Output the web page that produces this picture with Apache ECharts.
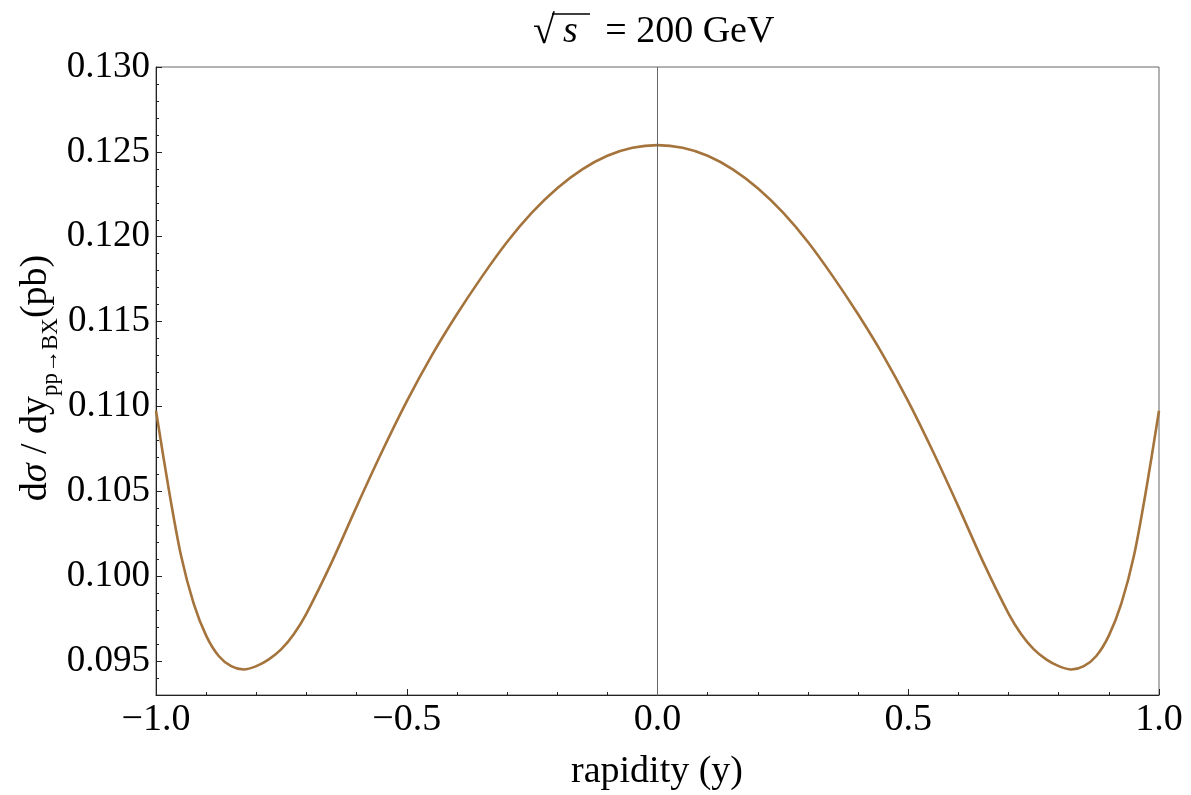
<!DOCTYPE html>
<html>
<head>
<meta charset="utf-8">
<script src="https://cdn.jsdelivr.net/npm/echarts@6/dist/echarts.min.js"></script>
<style>
html,body{margin:0;padding:0;background:#fff;}
#chart{width:1191px;height:795px;}
</style>
</head>
<body>
<div id="chart"></div>
<script>
// rapidity values
const rapidity = [-1.0, -0.975, -0.95, -0.925, -0.9, -0.875, -0.85, -0.825, -0.8, -0.775, -0.75, -0.725, -0.7, -0.65, -0.6, -0.55, -0.5, -0.45, -0.4, -0.35, -0.3, -0.25, -0.2, -0.15, -0.1, -0.05,
  0.0, 0.05, 0.1, 0.15, 0.2, 0.25, 0.3, 0.35, 0.4, 0.45, 0.5, 0.55, 0.6, 0.65, 0.7, 0.725, 0.75, 0.775, 0.8, 0.825, 0.85, 0.875, 0.9, 0.925, 0.95, 0.975, 1.0];
// dsigma/dy (pb)
const dsigma = [0.10975, 0.1052, 0.1012, 0.0984, 0.0965, 0.0953, 0.0947, 0.0945, 0.0947, 0.0951, 0.0957, 0.0966, 0.0978, 0.1008, 0.1041, 0.1073, 0.1103, 0.11301, 0.11543, 0.11765, 0.11969, 0.12143, 0.12286, 0.12397, 0.12477, 0.12524,
  0.1254, 0.12524, 0.12477, 0.12397, 0.12286, 0.12143, 0.11969, 0.11765, 0.11543, 0.11301, 0.1103, 0.1073, 0.1041, 0.1008, 0.0978, 0.0966, 0.0957, 0.0951, 0.0947, 0.0945, 0.0947, 0.0953, 0.0965, 0.0984, 0.1012, 0.1052, 0.10975];
const yMajorTicks = [0.095, 0.100, 0.105, 0.110, 0.115, 0.120, 0.125, 0.130];
const xTickLabels = ['\u22121.0', '\u22120.5', '0.0', '0.5', '1.0'];

const FONT = '"Liberation Serif", "DejaVu Serif", serif';
const chart = echarts.init(document.getElementById('chart'), null, {renderer: 'canvas'});
const data = rapidity.map((x, i) => [x, dsigma[i]]);

chart.setOption({
  backgroundColor: '#ffffff',
  animation: false,
  grid: {left: 156, right: 32, top: 67, bottom: 100, show: true, borderColor: '#666', borderWidth: 1, backgroundColor: 'transparent'},
  xAxis: {
    type: 'value', min: -1, max: 1, interval: 0.5,
    axisLine: {show: true, onZero: false, lineStyle: {color: '#222', width: 1}},
    axisTick: {show: true, inside: true, length: 6, lineStyle: {color: '#222'}},
    minorTick: {show: true, splitNumber: 5, length: 3, lineStyle: {color: '#222'}},
    splitLine: {show: false},
    axisLabel: {
      margin: 6, color: '#000', fontFamily: FONT, fontSize: 38,
      formatter: v => xTickLabels[Math.round((v + 1) * 2)]
    }
  },
  yAxis: [{
    type: 'value', min: 0.093, max: 0.130, position: 'left',
    axisLine: {show: true, onZero: false, lineStyle: {color: '#222', width: 1}},
    axisTick: {show: true, inside: true, length: 6, customValues: yMajorTicks, lineStyle: {color: '#222'}},
    splitLine: {show: false},
    axisLabel: {
      margin: 6, color: '#000', fontFamily: FONT, fontSize: 37,
      customValues: yMajorTicks,
      formatter: v => v.toFixed(3)
    }
  }, {
    type: 'value', min: 0.093, max: 0.130, interval: 0.001, position: 'left',
    axisLine: {show: false, onZero: false},
    axisTick: {show: true, inside: true, length: 3, lineStyle: {color: '#222'}},
    axisLabel: {show: false},
    splitLine: {show: false}
  }],
  series: [{
    type: 'line', data: data, yAxisIndex: 0, smooth: 0.3, showSymbol: false,
    lineStyle: {color: '#a5733c', width: 2.6},
    z: 3,
    markLine: {
      silent: true, symbol: ['none', 'none'], animation: false,
      label: {show: false},
      lineStyle: {color: '#666', width: 1, type: 'solid'},
      data: [{xAxis: 0}]
    }
  }],
  graphic: [
    {
      type: 'text', x: 37, y: 378, rotation: Math.PI / 2,
      style: {
        text: '{a|d}{g|σ}{a| / dy}{sub|pp→BX}{a|(pb)}',
        align: 'center', verticalAlign: 'middle',
        fill: '#000',
        rich: {
          a: {fontFamily: FONT, fontSize: 38, lineHeight: 40, verticalAlign: 'top', fill: '#000'},
          g: {fontFamily: FONT, fontSize: 38, fontStyle: 'italic', lineHeight: 40, verticalAlign: 'top', fill: '#000'},
          sub: {fontFamily: FONT, fontSize: 23, lineHeight: 23, verticalAlign: 'top', padding: [22, 0, 0, 0], fill: '#000'}
        }
      }
    },
    {
      type: 'text', x: 657, y: 772,
      style: {
        text: 'rapidity (y)', align: 'center', verticalAlign: 'middle',
        fill: '#000', font: '38px ' + FONT
      }
    },
    {
      type: 'text', x: 533, y: 52,
      style: {
        text: '{r|√}{s|s}{t| = 200 GeV}',
        align: 'left', verticalAlign: 'bottom', fill: '#000',
        rich: {
          r: {fontFamily: FONT, fontSize: 40, fill: '#000'},
          s: {fontFamily: FONT, fontSize: 38, fontStyle: 'italic', fill: '#000', padding: [0, 18, 0, 8]},
          t: {fontFamily: FONT, fontSize: 38, fill: '#000'}
        }
      }
    },
    {
      type: 'line', shape: {x1: 552, y1: 14, x2: 590, y2: 14},
      style: {stroke: '#000', lineWidth: 1.5}
    }
  ]
});
</script>
</body>
</html>
